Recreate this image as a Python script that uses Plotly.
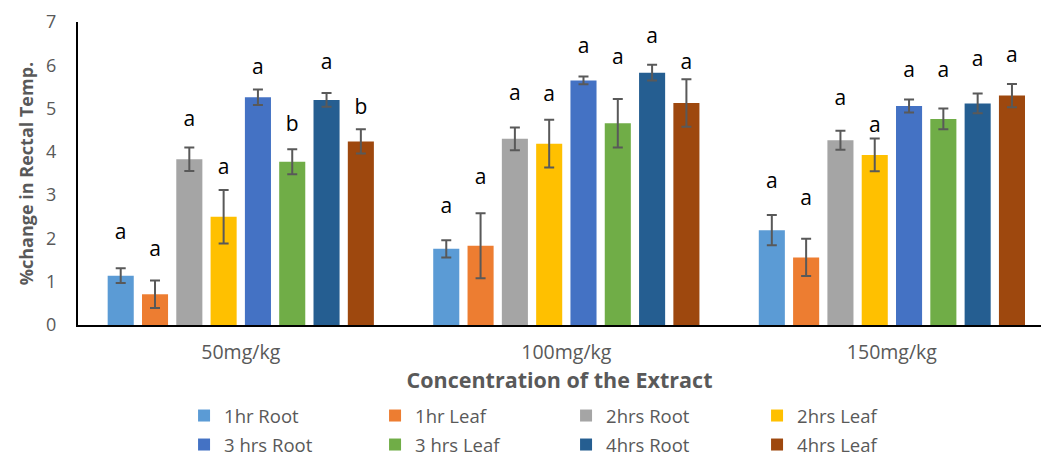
import plotly.graph_objects as go

concentrations = ["50mg/kg", "100mg/kg", "150mg/kg"]

series_names = ["1hr Root", "1hr Leaf", "2hrs Root", "2hrs Leaf",
                "3 hrs Root", "3 hrs Leaf", "4hrs Root", "4hrs Leaf"]

colors = ["#5B9BD5", "#ED7D31", "#A5A5A5", "#FFC000",
          "#4472C4", "#70AD47", "#255E91", "#9E480E"]

# mean % change per series across the three concentrations
root_1hr = [1.14, 1.76, 2.19]
leaf_1hr = [0.71, 1.83, 1.56]
root_2hrs = [3.83, 4.30, 4.27]
leaf_2hrs = [2.50, 4.19, 3.93]
root_3hrs = [5.26, 5.65, 5.06]
leaf_3hrs = [3.77, 4.66, 4.76]
root_4hrs = [5.20, 5.83, 5.12]
leaf_4hrs = [4.24, 5.13, 5.30]

# standard errors
err_root_1hr = [0.17, 0.20, 0.35]
err_leaf_1hr = [0.32, 0.75, 0.43]
err_root_2hrs = [0.27, 0.26, 0.22]
err_leaf_2hrs = [0.62, 0.55, 0.38]
err_root_3hrs = [0.18, 0.09, 0.15]
err_leaf_3hrs = [0.29, 0.56, 0.24]
err_root_4hrs = [0.16, 0.18, 0.23]
err_leaf_4hrs = [0.28, 0.55, 0.27]

# significance letters per series
sig_root_1hr = ["a", "a", "a"]
sig_leaf_1hr = ["a", "a", "a"]
sig_root_2hrs = ["a", "a", "a"]
sig_leaf_2hrs = ["a", "a", "a"]
sig_root_3hrs = ["a", "a", "a"]
sig_leaf_3hrs = ["b", "a", "a"]
sig_root_4hrs = ["a", "a", "a"]
sig_leaf_4hrs = ["b", "a", "a"]

# height (in axis units) at which each letter sits
sig_y_root_1hr = [2.10, 2.71, 3.29]
sig_y_leaf_1hr = [1.72, 3.39, 2.90]
sig_y_root_2hrs = [4.73, 5.33, 5.21]
sig_y_leaf_2hrs = [3.62, 5.29, 4.58]
sig_y_root_3hrs = [5.93, 6.40, 5.84]
sig_y_leaf_3hrs = [4.60, 6.14, 5.85]
sig_y_root_4hrs = [6.04, 6.64, 6.10]
sig_y_leaf_4hrs = [4.99, 6.04, 6.20]

values = [root_1hr, leaf_1hr, root_2hrs, leaf_2hrs,
          root_3hrs, leaf_3hrs, root_4hrs, leaf_4hrs]
errors = [err_root_1hr, err_leaf_1hr, err_root_2hrs, err_leaf_2hrs,
          err_root_3hrs, err_leaf_3hrs, err_root_4hrs, err_leaf_4hrs]
letters = [sig_root_1hr, sig_leaf_1hr, sig_root_2hrs, sig_leaf_2hrs,
           sig_root_3hrs, sig_leaf_3hrs, sig_root_4hrs, sig_leaf_4hrs]
letter_y = [sig_y_root_1hr, sig_y_leaf_1hr, sig_y_root_2hrs, sig_y_leaf_2hrs,
            sig_y_root_3hrs, sig_y_leaf_3hrs, sig_y_root_4hrs, sig_y_leaf_4hrs]

FONT = "'Open Sans', Lato, sans-serif"
GREY = "#595959"

fig = go.Figure()

for i, name in enumerate(series_names):
    fig.add_trace(go.Bar(
        name=name,
        x=concentrations,
        y=values[i],
        marker=dict(color=colors[i], line=dict(width=0)),
        error_y=dict(type="data", array=errors[i], visible=True,
                     color=GREY, thickness=2, width=5),
        offsetgroup=str(i),
        legend="legend" if i < 4 else "legend2",
    ))
    # significance letters, placed over each bar of this series
    fig.add_trace(go.Scatter(
        x=concentrations,
        y=letter_y[i],
        text=letters[i],
        mode="text",
        textfont=dict(family=FONT, size=21, color="#000000"),
        offsetgroup=str(i),
        showlegend=False,
        hoverinfo="skip",
    ))

legend_style = dict(
    orientation="h", xref="container", yref="container",
    xanchor="left", yanchor="middle",
    entrywidth=146, entrywidthmode="pixels",
    font=dict(size=18.5, color=GREY), itemwidth=30,
    bgcolor="rgba(0,0,0,0)", tracegroupgap=0,
)

fig.update_layout(
    width=1041,
    height=457,
    margin=dict(l=78, r=0, t=22, b=132, autoexpand=False),
    paper_bgcolor="white",
    plot_bgcolor="white",
    barmode="group",
    scattermode="group",
    bargap=0.157,
    bargroupgap=0.24,
    font=dict(family=FONT, color=GREY, size=18),
    xaxis=dict(
        range=[-0.5, 2.458],
        showline=True, linecolor="#000000", linewidth=2,
        ticks="", showgrid=False, automargin=False,
        ticklabelstandoff=9,
        tickfont=dict(size=19.5, color=GREY),
        title=dict(text="<b>Concentration of the Extract</b>",
                   font=dict(size=21.5, color=GREY), standoff=7),
    ),
    yaxis=dict(
        range=[0, 7],
        dtick=1,
        showline=True, linecolor="#000000", linewidth=2,
        ticks="", showgrid=False, zeroline=False, automargin=False,
        ticklabelstandoff=16,
        tickfont=dict(size=18, color=GREY),
        title=dict(text="<b>%change in Rectal Temp.</b>",
                   font=dict(size=18, color=GREY), standoff=8),
    ),
    legend=dict(legend_style, x=0.1768, y=1 - 416 / 457),
    legend2=dict(legend_style, x=0.1768, y=1 - 445 / 457),
)

fig.write_html("out.html")
